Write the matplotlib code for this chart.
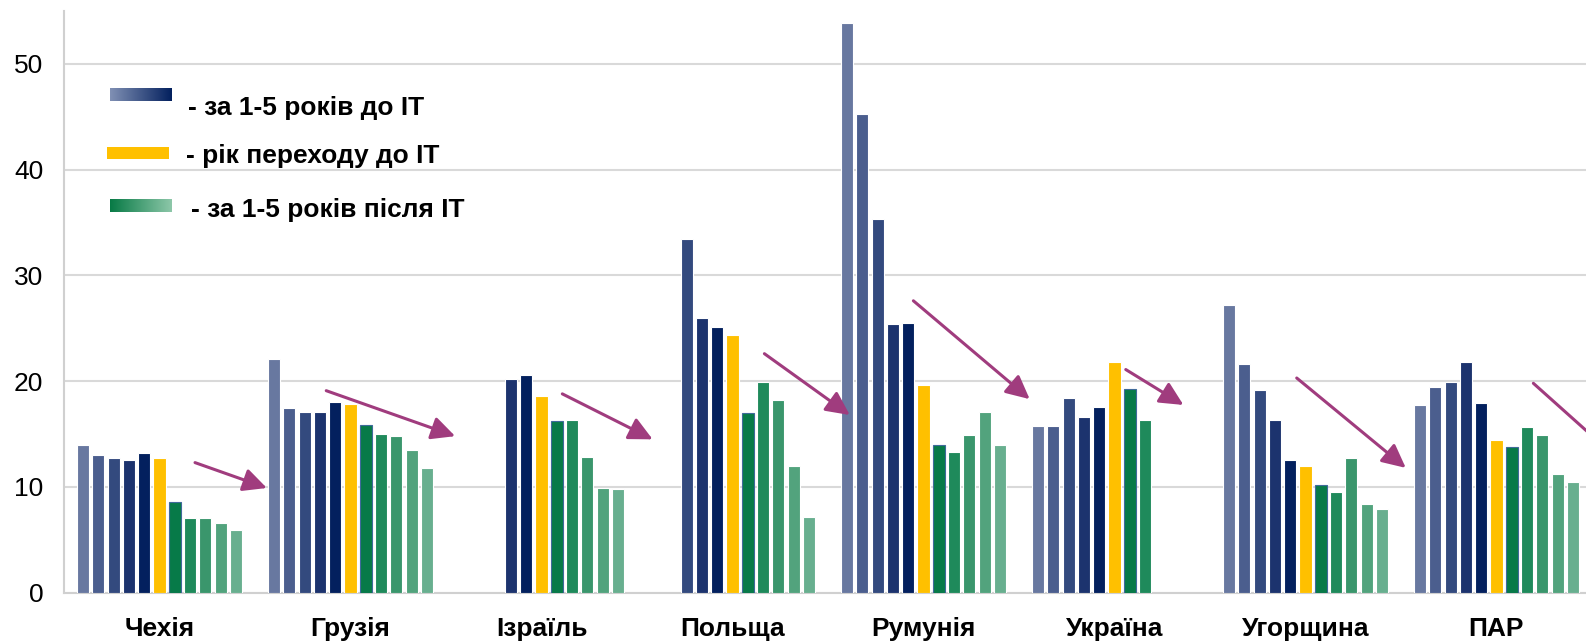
import numpy as np
import matplotlib.pyplot as plt
from matplotlib.colors import LinearSegmentedColormap

plt.rcParams['font.family'] = ['Liberation Sans', 'DejaVu Sans']

nan = np.nan

# Країни та значення показника: 5 років до ІТ, рік переходу, 5 років після
countries = ['Чехія', 'Грузія', 'Ізраїль', 'Польща', 'Румунія', 'Україна', 'Угорщина', 'ПАР']

czech = [14.0, 13.0, 12.7, 12.5, 13.2, 12.7, 8.6, 7.1, 7.1, 6.6, 5.9]
georgia = [22.1, 17.5, 17.1, 17.1, 18.0, 17.8, 15.9, 15.0, 14.8, 13.5, 11.8]
israel = [nan, nan, nan, 20.2, 20.6, 18.6, 16.2, 16.3, 12.8, 9.9, 9.8]
poland = [nan, nan, 33.4, 26.0, 25.1, 24.4, 17.0, 19.95, 18.25, 11.95, 7.2]
romania = [53.9, 45.3, 35.3, 25.4, 25.5, 19.6, 14.0, 13.3, 14.9, 17.1, 14.0]
ukraine = [15.8, 15.8, 18.4, 16.6, 17.6, 21.8, 19.3, 16.3, nan, nan, nan]
hungary = [27.2, 21.65, 19.2, 16.3, 12.55, 12.0, 10.2, 9.5, 12.75, 8.4, 7.95]
sar = [17.7, 19.45, 19.95, 21.8, 17.9, 14.4, 13.75, 15.7, 14.9, 11.2, 10.5]

series = [czech, georgia, israel, poland, romania, ukraine, hungary, sar]

legend_labels = ['- за 1-5 років до IT', '- рік переходу до IT', '- за 1-5 років після IT']

# Кольори стовпчиків за позицією у групі
SLOT_COLORS = ['#6878A0', '#4B5E8E', '#334A7E', '#1C336E', '#03205E',
               '#FFC000',
               '#077A48', '#1F8A5B', '#3A966C', '#52A37D', '#68AF8F']
ARROW_COLOR = '#A03C7E'
GRID_COLOR = '#D9D9D9'

# Стрілки тенденції (початок, кінець) у координатах даних
trend_arrows = [((0.186, 12.3), (0.562, 9.9)),
                ((0.873, 19.1), (1.548, 14.8)),
                ((2.109, 18.8), (2.582, 14.5)),
                ((3.167, 22.6), (3.614, 16.8)),
                ((3.947, 27.6), (4.556, 18.3)),
                ((5.059, 21.1), (5.361, 17.75)),
                ((5.954, 20.3), (6.525, 11.8)),
                ((7.193, 19.8), (7.62, 12.9))]

SLOT = 0.08
BAR_W = 0.064
FS = 19

fig = plt.figure(figsize=(15.86, 6.41), dpi=100)
ax = fig.add_axes([64 / 1586, 1 - 592.7 / 641, 1528 / 1586, (592.7 - 11) / 641])

x = np.arange(len(countries))
values = np.array(series, dtype=float)
for j in range(11):
    edge = '#3F6A9A' if j == 6 else 'white'
    ax.bar(x + (j - 5) * SLOT, values[:, j], width=BAR_W, color=SLOT_COLORS[j],
           edgecolor=edge, linewidth=0.8, zorder=3)

for (x0, y0), (x1, y1) in trend_arrows:
    ax.annotate('', xy=(x1, y1), xytext=(x0, y0),
                arrowprops=dict(arrowstyle='-|>,head_length=0.55,head_width=0.27',
                                color=ARROW_COLOR, lw=2.2,
                                mutation_scale=26, shrinkA=0, shrinkB=0),
                zorder=4, annotation_clip=False)

ax.set_xlim(-0.5, 7.5)
ax.set_ylim(0, 55)
ax.set_yticks([0, 10, 20, 30, 40, 50])
ax.set_xticks(x)
ax.set_xticklabels(countries, fontsize=FS, fontweight='bold')
ax.tick_params(axis='y', length=0, pad=15, labelsize=FS)
ax.tick_params(axis='x', length=0, pad=17.5)
ax.yaxis.grid(True, color=GRID_COLOR, linewidth=1.5, zorder=0)
ax.set_axisbelow(True)
for side in ['top', 'right']:
    ax.spines[side].set_visible(False)
ax.spines['left'].set_color('#D0D0D0')
ax.spines['left'].set_linewidth(1.5)
ax.spines['bottom'].set_color('#D0D0D0')
ax.spines['bottom'].set_linewidth(1.5)

# Легенда: градієнтні смужки та підписи
blue_cmap = LinearSegmentedColormap.from_list('blue_grad', ['#8090B4', '#03205E'])
green_cmap = LinearSegmentedColormap.from_list('green_grad', ['#077A45', '#8DC7A9'])
grad = np.linspace(0, 1, 256).reshape(1, -1)

legend_boxes = [(110, 88, 62, 13, blue_cmap),
                (107, 147, 62, 12, None),
                (110, 199, 62, 13, green_cmap)]
for left, top, w, h, cmap in legend_boxes:
    lax = fig.add_axes([left / 1586, 1 - (top + h) / 641, w / 1586, h / 641])
    if cmap is None:
        lax.imshow(np.zeros((1, 2)), cmap=LinearSegmentedColormap.from_list('y', ['#FFC000', '#FFC000']),
                   aspect='auto')
    else:
        lax.imshow(grad, cmap=cmap, aspect='auto')
    lax.axis('off')

text_pos = [(188, 108), (186, 156), (191, 210)]
for (tx, ty), label in zip(text_pos, legend_labels):
    fig.text(tx / 1586, 1 - ty / 641, label, fontsize=FS, fontweight='bold',
             va='center', ha='left')

fig.savefig('out.png', dpi=100)
